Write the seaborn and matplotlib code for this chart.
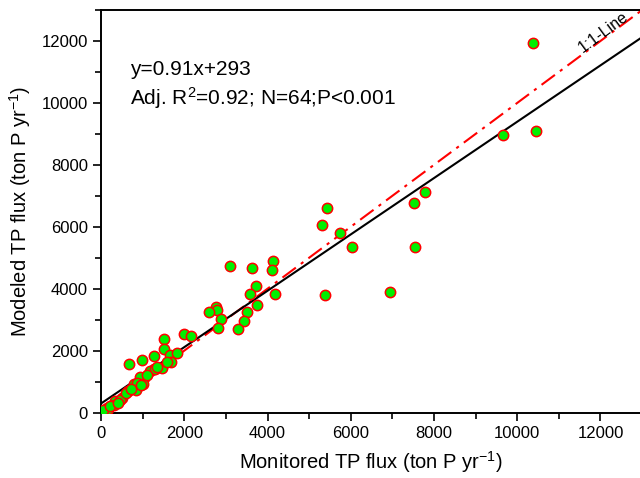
import numpy as np
import pandas as pd
import seaborn as sns
import matplotlib.pyplot as plt
from matplotlib.ticker import MultipleLocator

# monitored vs modeled TP flux (ton P / yr)
monitored = [10380, 9650, 10460, 7790, 7530, 7550, 6950, 6020, 5730, 5420,
             5310, 5380, 3100, 3620, 4130, 4110, 3720, 3580, 4170, 3740,
             3500, 3440, 3300, 2750, 2780, 2600, 2880, 2810, 1990, 2160,
             1510, 1520, 1280, 980, 680, 1660, 1680, 1830, 1460, 1280,
             1170, 1020, 930, 1000, 800, 840, 650, 510, 330, 310,
             140, 160, 50, 870, 970, 1290, 220, 450, 590, 720,
             1100, 1350, 1580, 400]
modeled = [11950, 8960, 9090, 7110, 6780, 5340, 3880, 5350, 5810, 6590,
           6050, 3810, 4740, 4660, 4890, 4590, 4100, 3840, 3820, 3460,
           3240, 2940, 2700, 3400, 3300, 3240, 3010, 2740, 2550, 2470,
           2360, 2040, 1820, 1710, 1570, 1870, 1640, 1920, 1440, 1420,
           1330, 1120, 1150, 920, 920, 730, 690, 470, 380, 250,
           140, 100, 90, 950, 900, 1400, 200, 420, 620, 760,
           1220, 1480, 1620, 300]

slope, intercept = 0.91, 293
line_x = [0, 13000]

df = pd.DataFrame({"monitored": monitored, "modeled": modeled})
fit = pd.DataFrame({"x": line_x, "y": [slope * v + intercept for v in line_x]})
one = pd.DataFrame({"x": line_x, "y": line_x})

sns.set_theme(style="ticks")
plt.rcParams["font.family"] = ["Liberation Sans", "DejaVu Sans"]
plt.rcParams["mathtext.fontset"] = "custom"
plt.rcParams["mathtext.rm"] = "Liberation Sans"
plt.rcParams["mathtext.it"] = "Liberation Sans:italic"
plt.rcParams["text.color"] = "black"
plt.rcParams["axes.labelcolor"] = "black"

fig = plt.figure(figsize=(6.4, 4.78), dpi=100)
ax = fig.add_axes([0.158, 0.137, 0.842, 0.842])

sns.lineplot(data=one, x="x", y="y", ax=ax, color="red", lw=1.5,
             linestyle=(0, (8, 3, 1.5, 3)), zorder=2)
sns.lineplot(data=fit, x="x", y="y", ax=ax, color="black", lw=1.5, zorder=3)
sns.scatterplot(data=df, x="monitored", y="modeled", ax=ax, s=55,
                color="#00f000", edgecolor="red", linewidth=1.1, zorder=4)

ax.set_xlim(0, 12950)
ax.set_ylim(0, 13000)
ax.xaxis.set_major_locator(MultipleLocator(2000))
ax.yaxis.set_major_locator(MultipleLocator(2000))
ax.xaxis.set_minor_locator(MultipleLocator(1000))
ax.yaxis.set_minor_locator(MultipleLocator(1000))
ax.tick_params(which="major", direction="out", length=6, width=1.2,
               labelsize=12, colors="black")
ax.tick_params(which="minor", direction="out", length=4, width=1.2,
               colors="black")
for side in ["left", "bottom", "top"]:
    ax.spines[side].set_linewidth(1.4)
    ax.spines[side].set_color("black")
ax.spines["right"].set_visible(False)

ax.set_xlabel("Monitored TP flux (ton P yr$^{-1}$)", fontsize=14.5, labelpad=6)
ax.set_ylabel("Modeled TP flux (ton P yr$^{-1}$)", fontsize=14.5, labelpad=6)

ax.text(0.054, 0.852, "y=0.91x+293", transform=ax.transAxes, fontsize=15,
        va="center")
ax.text(0.054, 0.782, "Adj. R$^2$=0.92; N=64;P<0.001", transform=ax.transAxes,
        fontsize=15, va="center")
ax.text(12080, 12300, "1:1-Line", fontsize=11.5, rotation=36.5,
        ha="center", va="center", rotation_mode="anchor")

fig.savefig("out.png", dpi=100)
